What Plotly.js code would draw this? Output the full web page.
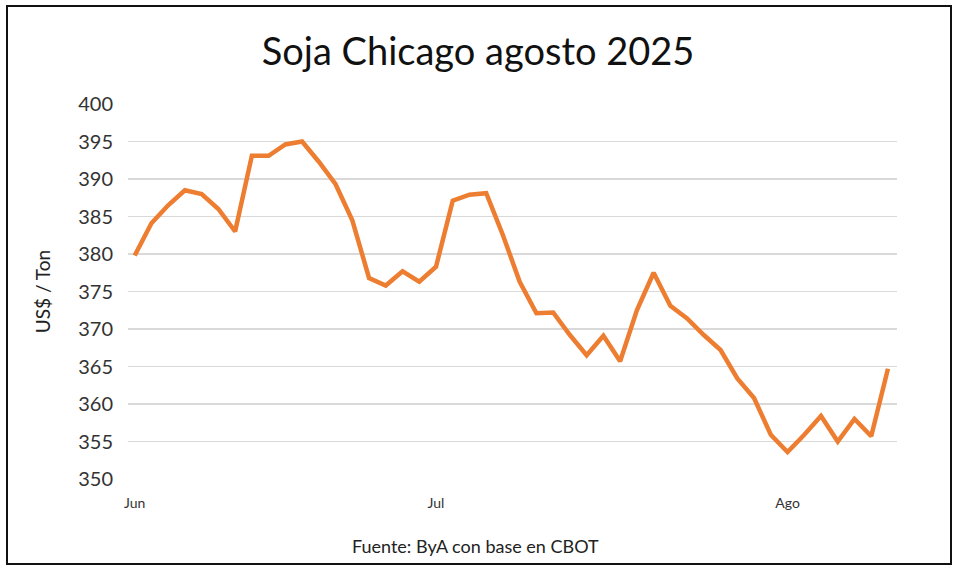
<!DOCTYPE html>
<html>
<head>
<meta charset="utf-8">
<script src="https://cdn.plot.ly/plotly-3.0.1.min.js"></script>
<style>
  html, body { margin: 0; padding: 0; background: #fff; }
  #wrap { position: relative; width: 960px; height: 576px; }
  #chart { width: 960px; height: 576px; }
  #frame { position: absolute; left: 6px; top: 5px; width: 942px; height: 556px;
           border: 2.5px solid #111; pointer-events: none; }
</style>
</head>
<body>
<div id="wrap">
  <div id="chart"></div>
  <div id="frame"></div>
</div>
<script>
// Trading-day index and closing price (US$/Ton)
const dayIndex = Array.from({length: 46}, (_, i) => i);
const prices = [
  379.8, 384.1, 386.5, 388.5, 388.0, 386.0, 383.0, 393.1, 393.1, 394.6,
  395.0, 392.3, 389.3, 384.5, 376.8, 375.8, 377.7, 376.3, 378.3, 387.1,
  387.9, 388.1, 382.5, 376.3, 372.1, 372.2, 369.2, 366.5, 369.1, 365.7,
  372.5, 377.5, 373.1, 371.4, 369.2, 367.2, 363.4, 360.8, 355.9, 353.6,
  355.9, 358.4, 355.0, 358.0, 355.7, 364.7
];
const monthTickIndex = [0, 18, 39];
const monthTickLabels = ['Jun', 'Jul', 'Ago'];
const yTicks = [350, 355, 360, 365, 370, 375, 380, 385, 390, 395, 400];

const font = 'Lato, "Open Sans", "Noto Sans", sans-serif';

const trace = {
  x: dayIndex,
  y: prices,
  type: 'scatter',
  mode: 'lines',
  line: { color: '#ED7D31', width: 4.5, shape: 'linear' },
  hoverinfo: 'skip'
};

const layout = {
  width: 960, height: 576,
  margin: { l: 128, r: 63, t: 104, b: 97 },
  paper_bgcolor: '#fff', plot_bgcolor: '#fff',
  showlegend: false,
  title: {
    text: 'Soja Chicago agosto 2025',
    font: { family: font, size: 38, color: '#111' },
    x: 0.498, xanchor: 'center', y: 0.91, yanchor: 'middle'
  },
  xaxis: {
    range: [-0.4, 45.54],
    tickmode: 'array', tickvals: monthTickIndex, ticktext: monthTickLabels,
    showgrid: false, zeroline: false, showline: false, ticks: '',
    tickfont: { family: font, size: 14, color: '#333' },
    ticklabelstandoff: 14
  },
  yaxis: {
    range: [350, 400],
    tickmode: 'array', tickvals: yTicks,
    showgrid: true, gridcolor: '#d9d9d9', gridwidth: 1.5,
    zeroline: false, showline: false, ticks: '',
    tickfont: { family: font, size: 20, color: '#333' },
    ticklabelstandoff: 14,
    title: { text: 'US$ / Ton', font: { family: font, size: 19, color: '#222' }, standoff: 22 }
  },
  annotations: [{
    text: 'Fuente: ByA con base en CBOT',
    xref: 'paper', yref: 'paper', x: 0.4525, y: -0.178,
    xanchor: 'center', yanchor: 'middle', showarrow: false,
    font: { family: font, size: 18, color: '#222' }
  }]
};

Plotly.newPlot('chart', [trace], layout, { staticPlot: true, displayModeBar: false });
</script>
</body>
</html>
